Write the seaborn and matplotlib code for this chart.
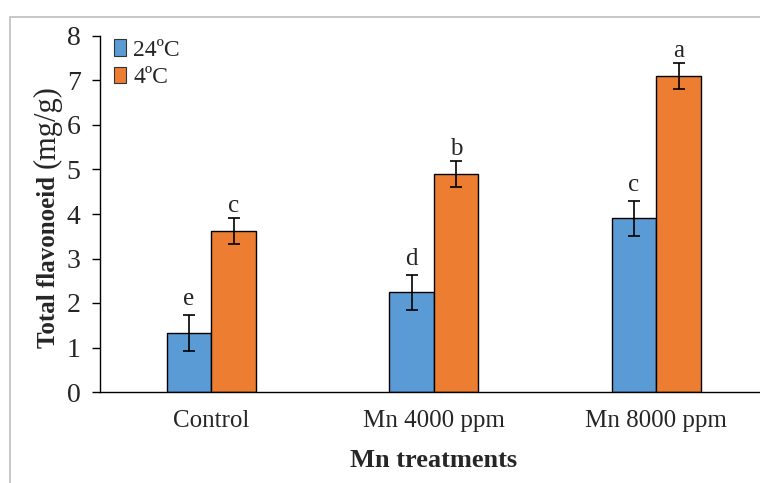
import matplotlib
matplotlib.use("Agg")
import matplotlib.pyplot as plt
from matplotlib.patches import Rectangle
import seaborn as sns
import pandas as pd

# Data
treatments = ["Control", "Mn 4000 ppm", "Mn 8000 ppm"]
temperatures = ["24ºC", "4ºC"]
flavonoid_24c = [1.33, 2.24, 3.90]
flavonoid_4c = [3.62, 4.90, 7.10]
error_24c = [0.40, 0.40, 0.40]
error_4c = [0.30, 0.30, 0.30]
letters_24c = ["e", "d", "c"]
letters_4c = ["c", "b", "a"]
y_ticks = [0, 1, 2, 3, 4, 5, 6, 7, 8]

colors = {"24ºC": "#5B9BD5", "4ºC": "#ED7D31"}
letter_gap = {"24ºC": 7.0, "4ºC": 4.0}  # points above the error cap

df = pd.DataFrame({
    "Treatment": treatments * 2,
    "Temperature": [temperatures[0]] * 3 + [temperatures[1]] * 3,
    "Value": flavonoid_24c + flavonoid_4c,
    "Err": error_24c + error_4c,
    "Letter": letters_24c + letters_4c,
})

sns.set_style("white")
plt.rcParams["font.family"] = ["Liberation Serif", "DejaVu Serif"]

fig = plt.figure(figsize=(7.6, 4.83), dpi=100)
ax = fig.add_axes([100 / 760, 91 / 483, 667.5 / 760, 356 / 483])

sns.barplot(data=df, x="Treatment", y="Value", hue="Temperature",
            order=treatments, hue_order=temperatures, palette=colors,
            saturation=1, width=0.4, errorbar=None, edgecolor="black",
            linewidth=1.0, ax=ax)

# Error bars and significance letters on each bar
for container, temp in zip(ax.containers, temperatures):
    sub = df[df["Temperature"] == temp].set_index("Treatment").loc[treatments]
    for patch, val, err, letter in zip(container.patches, sub["Value"],
                                       sub["Err"], sub["Letter"]):
        cx = patch.get_x() + patch.get_width() / 2
        ax.errorbar(cx, val, yerr=err, fmt="none", ecolor="black",
                    elinewidth=1.2, capsize=4.5, capthick=1.2, zorder=5)
        ax.annotate(letter, (cx, val + err), xytext=(0, letter_gap[temp]),
                    textcoords="offset points", ha="center", va="baseline",
                    fontsize=18)

ax.set_xlim(-0.5, 2.5)
ax.set_ylim(0, 8)
ax.set_yticks(y_ticks)
ax.tick_params(axis="y", labelsize=20, length=6, width=1, direction="out",
               left=True, color="black", pad=8)
ax.tick_params(axis="x", labelsize=18, length=0, pad=13)

for side in ["top", "right"]:
    ax.spines[side].set_visible(False)
for side in ["left", "bottom"]:
    ax.spines[side].set_color("black")
    ax.spines[side].set_linewidth(1.0)

ax.set_xlabel("Mn treatments", fontsize=19, fontweight="bold", labelpad=12)
ax.set_ylabel("")

# Y-axis title: bold name followed by the regular unit
fig.text(55 / 760, (483 - 348) / 483, "Total flavonoeid", rotation=90,
         rotation_mode="anchor", ha="left", va="baseline",
         fontsize=18, fontweight="bold")
fig.text(55 / 760, (483 - 168) / 483, "(mg/g)", rotation=90,
         rotation_mode="anchor", ha="left", va="baseline", fontsize=22)

leg = ax.legend(loc="upper left", bbox_to_anchor=(0.0, 1.03), frameon=False,
                fontsize=17, handlelength=0.5, handleheight=0.7,
                handletextpad=0.3, labelspacing=0.25, borderaxespad=0.2)
for h in leg.legend_handles:
    h.set_edgecolor("#333333")
    h.set_linewidth(0.8)

# Light frame around the chart area
fig.patches.append(Rectangle((10 / 760, -0.05), 1.2, 0.05 + (483 - 17) / 483,
                             transform=fig.transFigure, fill=False,
                             edgecolor="#BFBFBF", linewidth=1.2))

fig.savefig("out.png", dpi=100)
